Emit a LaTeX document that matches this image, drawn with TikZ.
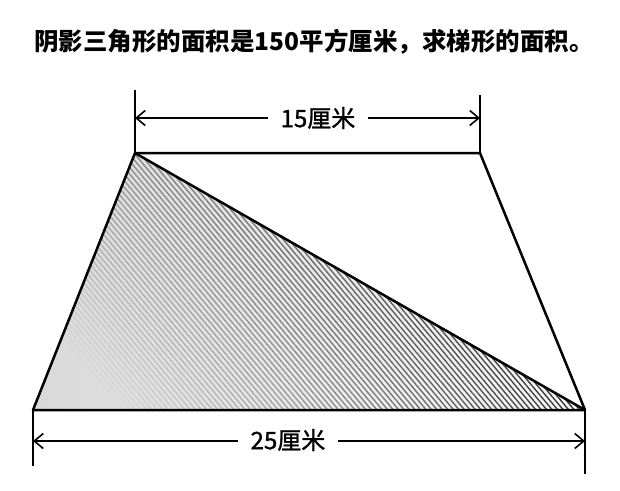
\documentclass[tikz,border=0pt]{standalone}
\usepackage{fontspec}
\newfontfamily\cjk{Noto Sans CJK SC}
\newfontfamily\cjklabel{Noto Sans CJK SC}[FakeBold=1.2]
\usetikzlibrary{arrows.meta, positioning, calc, patterns.meta, fadings}

\tikzfading[name=hatchfade, left color=transparent!100, right color=transparent!0]

\begin{document}
\begin{tikzpicture}[
    x = 1pt, y = -1pt, % pixel units, y going down
    > = {Straight Barb[length=9pt, width=15pt]}, % arrow head style
    semithick % line style
    ]

    \tikzset{
    edgeline/.style = {draw = black, line width = 2.5pt, line join = round},
    tickline/.style = {draw = black, line width = 2pt},
    dimline/.style = {draw = black, line width = 1.6pt, <->},
    dimtext/.style = {fill = white, inner xsep = 13pt, font = \cjklabel\fontsize{24}{27}\selectfont},
    titletext/.style = {font = \cjk\bfseries\fontsize{24.5}{27}\selectfont}
    }

    \useasboundingbox (0,0) rectangle (620,490);

    \node[titletext] (title) at (314,42) {阴影三角形的面积是150平方厘米，求梯形的面积。};

    % corners of the trapezoid
    \coordinate (tl) at (135,153);
    \coordinate (tr) at (480,153);
    \coordinate (br) at (585,410);
    \coordinate (bl) at (33,410);

    % shaded triangle
    \fill[left color = gray!30, right color = gray!5] (tl) -- (bl) -- (br) -- cycle;
    \fill[path fading = hatchfade, fading angle = 20,
          pattern = {Lines[angle=-50, distance=4.2pt, line width=1.4pt]},
          pattern color = black] (tl) -- (bl) -- (br) -- cycle;

    \draw[edgeline] (tl) -- (tr) -- (br) -- (bl) -- cycle;
    \draw[edgeline] (tl) -- (br);

    % top measure
    \coordinate (tt1) at (135,90);
    \coordinate (tt2) at (480,95);
    \coordinate (ta1) at (135,118);
    \coordinate (ta2) at (480,118);
    \draw[tickline] (tt1) -- (tl);
    \draw[tickline] (tt2) -- (tr);
    \draw[dimline] (ta1) -- (ta2);
    \node[dimtext] (top) at (318,118) {15厘米};

    % bottom measure
    \coordinate (bt1) at (33,466);
    \coordinate (bt2) at (585,474);
    \coordinate (ba1) at (33,441);
    \coordinate (ba2) at (585,441);
    \draw[tickline] (bl) -- (bt1);
    \draw[tickline] (br) -- (bt2);
    \draw[dimline] (ba1) -- (ba2);
    \node[dimtext] (bottom) at (288,440) {25厘米};

\end{tikzpicture}
\end{document}
